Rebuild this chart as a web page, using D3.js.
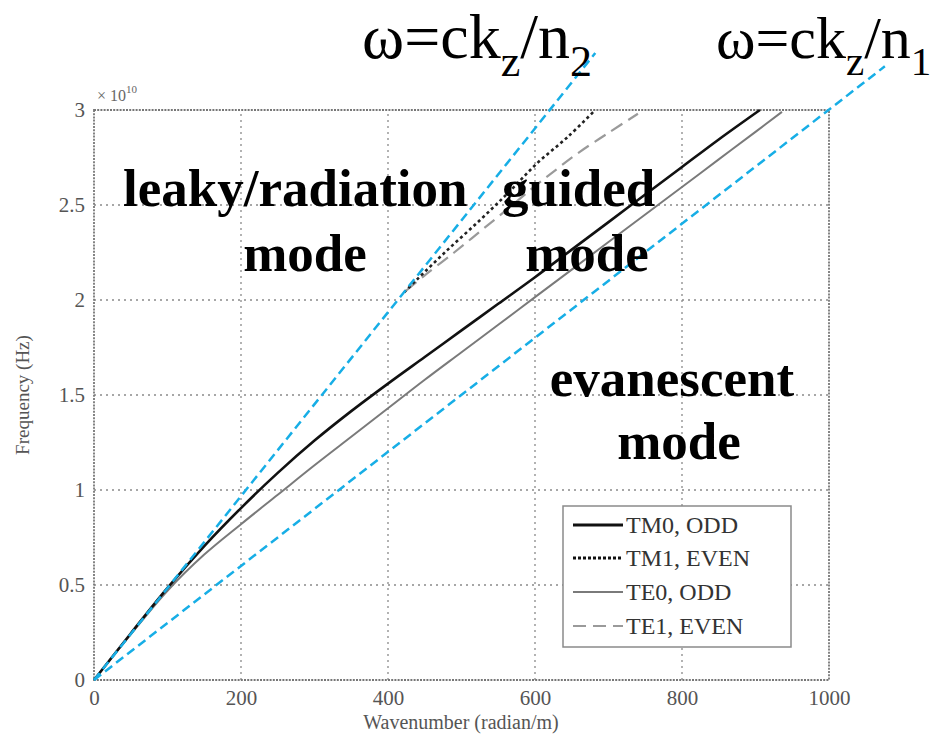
<!DOCTYPE html>
<html><head><meta charset="utf-8">
<script src="https://cdn.jsdelivr.net/npm/d3@7"></script>
<style>html,body{margin:0;padding:0;background:#fff;}svg{display:block;} svg text{font-family:'Liberation Serif','Times New Roman',serif;}</style>
</head><body>
<svg id="c" width="933" height="742"></svg>
<script>
// ---- data ----
const xTicks = [0, 200, 400, 600, 800, 1000];
const yTicks = [0, 0.5, 1, 1.5, 2, 2.5, 3];
const yTickLabels = ["0", "0.5", "1", "1.5", "2", "2.5", "3"];
const tm0K = [0, 50, 100, 150, 200, 250, 300, 350, 400, 450, 500, 550, 600, 650, 700, 750, 800, 850, 906];
const tm0F = [0, 0.245, 0.485, 0.705, 0.905, 1.09, 1.26, 1.415, 1.56, 1.70, 1.84, 1.98, 2.12, 2.265, 2.41, 2.555, 2.70, 2.845, 3.0];
const te0K = [0, 50, 100, 150, 200, 250, 300, 350, 400, 450, 500, 550, 600, 650, 700, 750, 800, 850, 900, 936];
const te0F = [0, 0.24, 0.47, 0.66, 0.82, 0.975, 1.13, 1.28, 1.43, 1.58, 1.725, 1.87, 2.015, 2.16, 2.305, 2.45, 2.595, 2.74, 2.885, 2.99];
const tm1K = [422, 440, 480, 525, 565, 603, 645, 682];
const tm1F = [2.04, 2.11, 2.26, 2.42, 2.57, 2.72, 2.86, 3.0];
const te1K = [425, 450, 490, 525, 560, 597, 630, 661, 700, 740];
const te1F = [2.05, 2.13, 2.25, 2.36, 2.47, 2.59, 2.69, 2.78, 2.88, 2.98];
const lightN2K = [0, 682];
const lightN2F = [0, 3.30];
const lightN1K = [0, 1076];
const lightN1F = [0, 3.23];
const legendNames = ["TM0, ODD", "TM1, EVEN", "TE0, ODD", "TE1, EVEN"];

// ---- layout ----
const svg = d3.select("#c");
const x = d3.scaleLinear().domain([0, 1000]).range([94, 829]);
const y = d3.scaleLinear().domain([0, 3]).range([680, 110]);
const serif = "'Liberation Serif','Times New Roman',serif";

// grid
const g = svg.append("g");
g.selectAll("line.vg").data(xTicks.slice(1, -1)).enter().append("line")
  .attr("x1", d => x(d)).attr("x2", d => x(d)).attr("y1", y(0)).attr("y2", y(3))
  .attr("stroke", "#8a8a8a").attr("stroke-width", 1.3).attr("stroke-dasharray", "2,4");
g.selectAll("line.hg").data(yTicks.slice(1, -1)).enter().append("line")
  .attr("x1", x(0)).attr("x2", x(1000)).attr("y1", d => y(d)).attr("y2", d => y(d))
  .attr("stroke", "#8a8a8a").attr("stroke-width", 1.3).attr("stroke-dasharray", "2,4");

// box
svg.append("rect").attr("x", x(0)).attr("y", y(3)).attr("width", x(1000) - x(0)).attr("height", y(0) - y(3))
  .attr("fill", "none").attr("stroke", "#777").attr("stroke-width", 1.8).attr("stroke-dasharray", "2,1.2");

// axes
const xAxis = d3.axisBottom(x).tickValues(xTicks).tickSize(0).tickPadding(10).tickFormat(d3.format("d"));
const gx = svg.append("g").attr("transform", `translate(0,${y(0)})`).call(xAxis);
gx.attr("font-family", serif).attr("font-size", 21);
gx.select(".domain").remove();
gx.selectAll("text").style("font-family", serif).style("font-size", "21px").attr("fill", "#555");
const yAxis = d3.axisLeft(y).tickValues(yTicks).tickSize(0).tickPadding(9).tickFormat((d, i) => yTickLabels[i]);
const gy = svg.append("g").attr("transform", `translate(${x(0)},0)`).call(yAxis);
gy.attr("font-family", serif).attr("font-size", 21);
gy.select(".domain").remove();
gy.selectAll("text").style("font-family", serif).style("font-size", "21px").attr("fill", "#555");

// exponent
const ex = svg.append("text").attr("x", 97).attr("y", 101).style("font-size", "16px").attr("fill", "#666");
ex.append("tspan").text("\u00d7 10");
ex.append("tspan").style("font-size", "11px").attr("dy", -8).text("10");

// axis titles
svg.append("text").attr("x", 461).attr("y", 729).attr("text-anchor", "middle")
  .style("font-size", "20px").attr("fill", "#555").text("Wavenumber (radian/m)");
svg.append("text").attr("transform", "translate(29,395) rotate(-90)").attr("text-anchor", "middle")
  .style("font-size", "19px").attr("fill", "#555").text("Frequency (Hz)");

// curves
const line = d3.line().x(d => x(d[0])).y(d => y(d[1])).curve(d3.curveCatmullRom.alpha(0.5));
const zip = (a, b) => a.map((v, i) => [v, b[i]]);
svg.append("path").attr("d", line(zip(te0K, te0F))).attr("fill", "none").attr("stroke", "#7a7a7a").attr("stroke-width", 2);
svg.append("path").attr("d", line(zip(te1K, te1F))).attr("fill", "none").attr("stroke", "#9a9a9a").attr("stroke-width", 2.2).attr("stroke-dasharray", "13,7");
svg.append("path").attr("d", line(zip(tm0K, tm0F))).attr("fill", "none").attr("stroke", "#111").attr("stroke-width", 2.6);
svg.append("path").attr("d", line(zip(tm1K, tm1F))).attr("fill", "none").attr("stroke", "#222").attr("stroke-width", 2.6).attr("stroke-dasharray", "3,3");

// light lines
const lin = d3.line().x(d => x(d[0])).y(d => y(d[1]));
[[lightN2K, lightN2F], [lightN1K, lightN1F]].forEach(([k, f]) => {
  svg.append("path").attr("d", lin(zip(k, f))).attr("fill", "none")
    .attr("stroke", "#17aee6").attr("stroke-width", 2.5).attr("stroke-dasharray", "9,5");
});

// legend
const lg = svg.append("g");
lg.append("rect").attr("x", 563).attr("y", 506).attr("width", 228).attr("height", 141)
  .attr("fill", "#fff").attr("stroke", "#8a8a8a").attr("stroke-width", 1.5);
const legStyles = [
  {c: "#111", w: 3, d: null},
  {c: "#111", w: 3, d: "3,2"},
  {c: "#7a7a7a", w: 2.2, d: null},
  {c: "#9a9a9a", w: 2.2, d: "13,7"}
];
const rowY = [525, 558, 592, 626];
legendNames.forEach((n, i) => {
  const s = legStyles[i];
  const l = lg.append("line").attr("x1", 573).attr("x2", 623).attr("y1", rowY[i]).attr("y2", rowY[i])
    .attr("stroke", s.c).attr("stroke-width", s.w);
  if (s.d) l.attr("stroke-dasharray", s.d);
  lg.append("text").attr("x", 626).attr("y", rowY[i] + 8).style("font-size", "24px")
    .attr("fill", "#333").text(n);
});

// annotations
function omega(xp, sub, fs) {
  const ss = Math.round(fs * 0.69), dy = Math.round(fs * 0.28);
  const t = svg.append("text").attr("x", xp).attr("y", 58).style("font-size", fs + "px").attr("fill", "#000");
  t.append("tspan").text("\u03c9=ck");
  t.append("tspan").style("font-size", ss + "px").attr("dy", dy).text("z");
  t.append("tspan").attr("dy", -dy).text("/n");
  t.append("tspan").style("font-size", ss + "px").attr("dy", dy).text(sub);
}
omega(362, "2", 64);
omega(716, "1", 60);

const bold = (tx, xp, yp, anchor) => svg.append("text").attr("x", xp).attr("y", yp).attr("text-anchor", anchor || "start")
  .style("font-weight", "bold").style("font-size", "53px").attr("fill", "#000").text(tx);
bold("leaky/radiation", 123, 206);
bold("mode", 305, 271, "middle");
bold("guided", 502, 206);
bold("mode", 587, 271, "middle");
bold("evanescent", 672, 396, "middle");
bold("mode", 679, 459, "middle");
</script>
</body></html>
